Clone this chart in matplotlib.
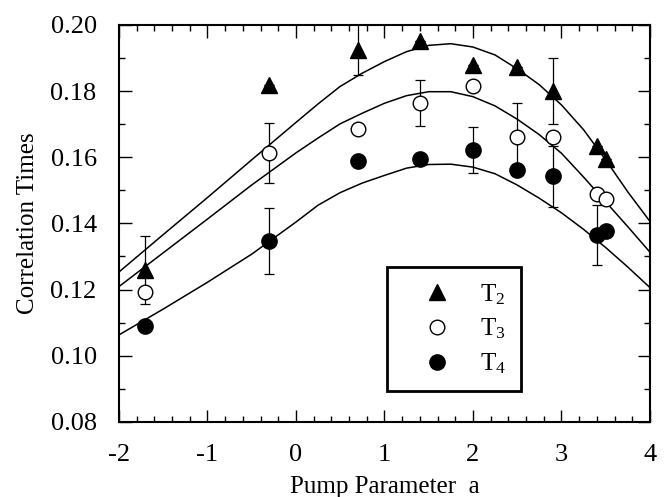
import matplotlib
matplotlib.use('Agg')
import matplotlib.pyplot as plt
from matplotlib.ticker import MultipleLocator, FormatStrFormatter

plt.rcParams['font.family'] = ['Liberation Serif', 'DejaVu Serif']
plt.rcParams['mathtext.fontset'] = 'custom'
plt.rcParams['mathtext.rm'] = 'Liberation Serif'
plt.rcParams['mathtext.it'] = 'Liberation Serif:italic'
plt.rcParams['axes.unicode_minus'] = False

# measured points
pump = [-1.7, -0.3, 0.7, 1.4, 2.0, 2.5, 2.9, 3.4, 3.5]
t2 = [0.1259, 0.1819, 0.1925, 0.1950, 0.1879, 0.1874, 0.1799, 0.1634, 0.1594]
t3 = [0.1192, 0.1612, 0.1686, 0.1763, 0.1816, 0.1661, 0.1661, 0.1489, 0.1473]
t4 = [0.1090, 0.1348, 0.1590, 0.1594, 0.1622, 0.1562, 0.1542, 0.1365, 0.1378]
t2_err = [0.0102, 0, 0.0077, 0, 0, 0, 0.0100, 0, 0]
t3_err = [0, 0.0090, 0, 0.0070, 0, 0.0102, 0, 0, 0]
t4_err = [0, 0.0100, 0, 0, 0.0070, 0, 0.0091, 0.0090, 0]

# fitted curves
fit_x = [-2.0, -1.5, -1.0, -0.5, 0.0, 0.25, 0.5, 0.75, 1.0, 1.25, 1.5, 1.75,
         2.0, 2.25, 2.5, 2.75, 3.0, 3.25, 3.5, 3.75, 4.0]
fit_t2 = [0.1253, 0.1366, 0.1478, 0.1592, 0.1705, 0.1761, 0.1814, 0.1854, 0.1889,
          0.1919, 0.1938, 0.1943, 0.1933, 0.1909, 0.1867, 0.1819, 0.1758, 0.1683,
          0.1592, 0.1495, 0.1406]
fit_t3 = [0.1209, 0.1311, 0.1413, 0.1516, 0.1613, 0.1658, 0.1701, 0.1733, 0.1763,
          0.1786, 0.1798, 0.1798, 0.1783, 0.1755, 0.1715, 0.1668, 0.1612, 0.1540,
          0.1465, 0.1390, 0.1313]
fit_t4 = [0.1063, 0.1141, 0.1222, 0.1307, 0.1404, 0.1455, 0.1493, 0.1522, 0.1545,
          0.1567, 0.1578, 0.1579, 0.1570, 0.1550, 0.1516, 0.1476, 0.1432, 0.1382,
          0.1327, 0.1268, 0.1206]

fig = plt.figure(figsize=(6.68, 4.97), dpi=100)
ax = fig.add_axes([0.178, 0.151, 0.795, 0.799])

for fy in (fit_t2, fit_t3, fit_t4):
    ax.plot(fit_x, fy, color='black', lw=1.1)

for vals, e in ((t2, t2_err), (t3, t3_err), (t4, t4_err)):
    ax.errorbar(pump, vals, yerr=e, fmt='none', ecolor='black',
                elinewidth=0.9, capsize=3.5, capthick=0.9)

ax.plot(pump, t2, '^', color='black', ms=11, ls='none', label=r'$\mathrm{T}_2$')
ax.plot(pump, t3, 'o', mfc='white', mec='black', mew=1.0, ms=10.5, ls='none',
        label=r'$\mathrm{T}_3$')
ax.plot(pump, t4, 'o', color='black', ms=11, ls='none', label=r'$\mathrm{T}_4$')

ax.set_xlim(-2, 4)
ax.set_ylim(0.08, 0.20)
ax.xaxis.set_major_locator(MultipleLocator(1))
ax.xaxis.set_minor_locator(MultipleLocator(0.2))
ax.yaxis.set_major_locator(MultipleLocator(0.02))
ax.yaxis.set_minor_locator(MultipleLocator(0.01))
ax.yaxis.set_major_formatter(FormatStrFormatter('%.2f'))
ax.tick_params(which='both', direction='in', top=True, right=True, width=1.0)
ax.tick_params(which='major', length=9, labelsize=19, pad=16)
ax.tick_params(which='minor', length=4.5)
for s in ax.spines.values():
    s.set_linewidth(1.5)

ax.set_xlabel('Pump Parameter  a', fontsize=18, labelpad=7)
ax.set_ylabel('Correlation Times', fontsize=18, labelpad=8)

leg = ax.legend(loc='upper left', bbox_to_anchor=(0.505, 0.39), borderaxespad=0,
                fontsize=18, frameon=True, fancybox=False, edgecolor='black',
                framealpha=1, borderpad=0.6, handlelength=2.8, handletextpad=0.32,
                labelspacing=0.4, numpoints=1)
leg.get_frame().set_linewidth(2.0)

fig.savefig('out.png', dpi=100)
